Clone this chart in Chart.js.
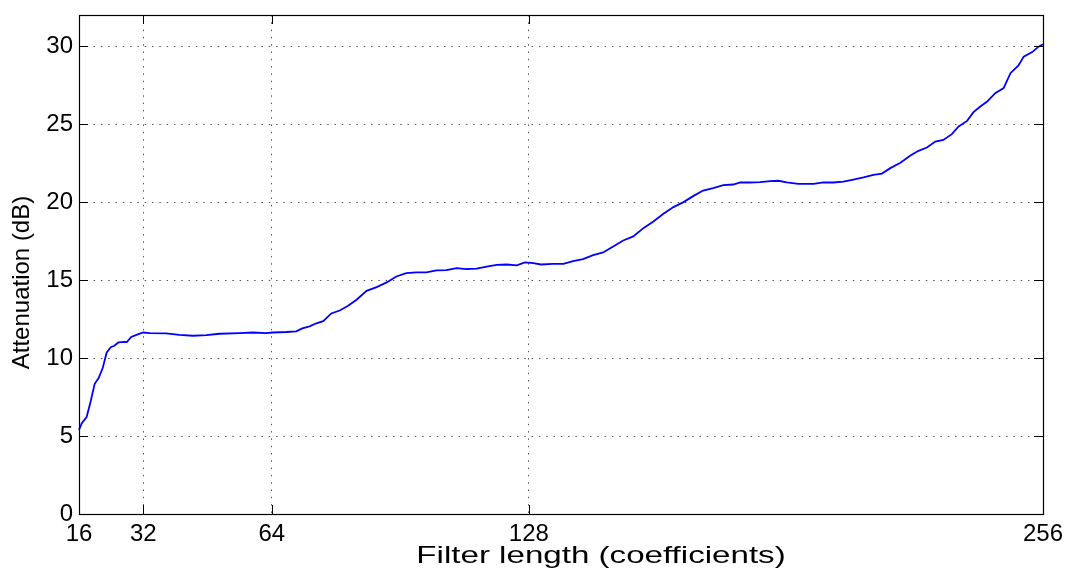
<!DOCTYPE html>
<html>
<head>
<meta charset="utf-8">
<script src="https://cdn.jsdelivr.net/npm/chart.js@4/dist/chart.umd.min.js"></script>
<style>
  html, body { margin: 0; padding: 0; background: #fff; }
  canvas { display: block; }
</style>
</head>
<body>
<canvas id="attenuationChart" width="1066" height="570"></canvas>
<script>
// filter length (number of coefficients) and measured stopband attenuation
const filterLength = [
  16, 16.7, 17.9, 18.9, 19.9, 20.9, 21.9, 22.9, 23.9, 24.8, 25.8, 27.3, 27.9, 29, 30.3,
  32, 33.6, 37.7, 41, 44.4, 47.7, 51, 56, 59.3, 62.6, 64.3, 67.6, 70.1, 71.6, 73.4,
  75.1, 76.8, 78.8, 80.9, 83, 85.1, 87.6, 90.1, 92.6, 95, 97.5, 100, 102.5, 105,
  107.5, 110, 112.5, 115, 117.5, 120, 122.5, 125, 127, 129.1, 131, 134, 136.6, 139,
  141.5, 144, 146.5, 149, 151.5, 154, 156.5, 159, 161.5, 164, 166.5, 169, 171.4,
  173.9, 176.4, 178.9, 180.6, 183.1, 185.6, 188.1, 190.1, 192.2, 195.1, 198.9,
  201.3, 203.8, 206.3, 208.8, 211.3, 213.8, 215.9, 218, 220.5, 223, 225, 227.1,
  229.2, 231.2, 233.3, 235, 237.1, 238.7, 240.4, 242.1, 244.1, 246.2, 247.9, 249.9,
  251.2, 253.3, 254.9, 256
];
const attenuationDb = [
  5.4, 5.83, 6.22, 7.22, 8.35, 8.72, 9.36, 10.36, 10.7, 10.79, 11.0, 11.04, 11.02, 11.35, 11.49,
  11.64, 11.6, 11.58, 11.49, 11.43, 11.47, 11.56, 11.6, 11.64, 11.6, 11.64, 11.67, 11.71, 11.9, 12.03,
  12.23, 12.37, 12.86, 13.05, 13.35, 13.74, 14.31, 14.55, 14.85, 15.23, 15.45, 15.49, 15.49, 15.62,
  15.64, 15.77, 15.71, 15.74, 15.87, 15.98, 16.0, 15.94, 16.13, 16.09, 16.0, 16.04, 16.04, 16.22,
  16.35, 16.6, 16.77, 17.15, 17.54, 17.8, 18.33, 18.76, 19.25, 19.68, 20.0, 20.4, 20.74,
  20.9, 21.09, 21.13, 21.26, 21.26, 21.28, 21.35, 21.37, 21.26, 21.17, 21.17,
  21.26, 21.26, 21.32, 21.45, 21.58, 21.75, 21.83, 22.18, 22.52, 22.99, 23.29, 23.5,
  23.88, 23.99, 24.36, 24.85, 25.21, 25.77, 26.13, 26.45, 26.99, 27.31, 28.27, 28.76,
  29.33, 29.62, 29.97, 30.13
];
const xTickValues = [16, 32, 64, 128, 256];
const yTickValues = [0, 5, 10, 15, 20, 25, 30];
const xLabel = 'Filter length (coefficients)';
const yLabel = 'Attenuation (dB)';

const fontFamily = '"Liberation Sans", Arial, Helvetica, sans-serif';
const labelFont = { family: fontFamily, size: 24 };

// axes box with inward tick marks on all four sides
const boxPlugin = {
  id: 'box',
  afterDraw(chart) {
    const { ctx, chartArea: a, scales: { x, y } } = chart;
    const len = 9;
    ctx.save();
    ctx.strokeStyle = '#000';
    ctx.lineWidth = 1;
    ctx.beginPath();
    xTickValues.forEach(v => {
      const px = Math.round(x.getPixelForValue(v)) + 0.5;
      ctx.moveTo(px, a.bottom); ctx.lineTo(px, a.bottom - len);
      ctx.moveTo(px, a.top); ctx.lineTo(px, a.top + len);
    });
    yTickValues.forEach(v => {
      const py = Math.round(y.getPixelForValue(v)) + 0.5;
      ctx.moveTo(a.left, py); ctx.lineTo(a.left + len, py);
      ctx.moveTo(a.right, py); ctx.lineTo(a.right - len, py);
    });
    ctx.stroke();
    ctx.lineWidth = 1.2;
    ctx.strokeRect(Math.round(a.left) + 0.5, Math.round(a.top) + 0.5,
      Math.round(a.right - a.left), Math.round(a.bottom - a.top));
    ctx.restore();
  }
};

// axis titles (the x title is set in a wide face)
const axisTitlePlugin = {
  id: 'axisTitles',
  afterDraw(chart) {
    const { ctx, chartArea: a } = chart;
    const cx = (a.left + a.right) / 2;
    const cy = (a.top + a.bottom) / 2;
    ctx.save();
    ctx.fillStyle = '#000';
    ctx.font = '24px ' + fontFamily;
    ctx.textAlign = 'center';
    ctx.textBaseline = 'middle';

    ctx.save();
    ctx.translate(cx + 40, a.bottom + 42);
    ctx.scale(1.38, 1);
    ctx.fillText(xLabel, 0, 0);
    ctx.restore();

    ctx.save();
    ctx.translate(22, cy + 18);
    ctx.rotate(-Math.PI / 2);
    ctx.fillText(yLabel, 0, 0);
    ctx.restore();

    ctx.restore();
  }
};

new Chart(document.getElementById('attenuationChart'), {
  type: 'line',
  data: {
    datasets: [{
      data: filterLength.map((n, i) => ({ x: n, y: attenuationDb[i] })),
      borderColor: '#0000ff',
      borderWidth: 1.8,
      pointRadius: 0,
      tension: 0,
      fill: false,
      clip: false
    }]
  },
  options: {
    responsive: false,
    animation: false,
    devicePixelRatio: 1,
    layout: { padding: { top: 15, right: 23, left: 0, bottom: 0 } },
    plugins: { legend: { display: false }, tooltip: { enabled: false } },
    scales: {
      x: {
        type: 'linear',
        min: 16,
        max: 256,
        afterBuildTicks: s => { s.ticks = xTickValues.map(v => ({ value: v })); },
        afterFit: s => { s.height = 56; s.paddingLeft = 0; s.paddingRight = 0; },
        ticks: { color: '#000', font: labelFont, padding: 6, maxRotation: 0, autoSkip: false },
        grid: { color: '#555', lineWidth: 1, drawTicks: false },
        border: { display: false, dash: [1.5, 5.8] }
      },
      y: {
        min: 0,
        max: 32,
        afterBuildTicks: s => { s.ticks = yTickValues.map(v => ({ value: v })); },
        afterFit: s => { s.width = 79; s.paddingTop = 0; s.paddingBottom = 0; },
        ticks: { color: '#000', font: labelFont, padding: 6 },
        grid: { color: '#555', lineWidth: 1, drawTicks: false },
        border: { display: false, dash: [1.5, 5.8] }
      }
    }
  },
  plugins: [boxPlugin, axisTitlePlugin]
});
</script>
</body>
</html>
